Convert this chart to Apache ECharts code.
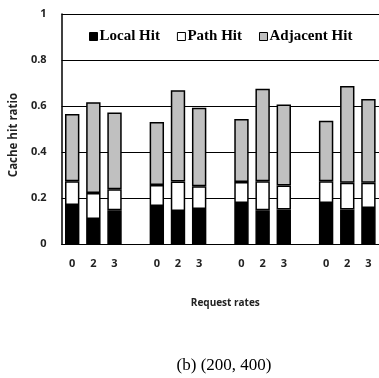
<!DOCTYPE html>
<html><head><meta charset="utf-8">
<script src="https://cdn.jsdelivr.net/npm/echarts@6/dist/echarts.min.js"></script>
<style>html,body{margin:0;padding:0;background:#fff;}#c{width:379px;height:378px;}</style>
</head><body><div id="c"></div>
<script>
const categories = ['0','2','3','','0','2','3','','0','2','3','','0','2','3'];
const localHit    = [0.170, 0.109, 0.147, null, 0.165, 0.144, 0.152, null, 0.178, 0.147, 0.150, null, 0.178, 0.150, 0.157];
const pathHit     = [0.103, 0.113, 0.091, null, 0.091, 0.128, 0.099, null, 0.092, 0.126, 0.104, null, 0.095, 0.116, 0.109];
const adjacentHit = [0.292, 0.394, 0.334, null, 0.274, 0.397, 0.341, null, 0.274, 0.402, 0.353, null, 0.263, 0.421, 0.364];
const yTicks = [0, 0.2, 0.4, 0.6, 0.8, 1];

const chart = echarts.init(document.getElementById('c'));
const barCommon = {type:'bar', stack:'s', barCategoryGap:'32%'};
chart.setOption({
  animation:false,
  title:{text:'(b) (200, 400)', left:219, top:352, textAlign:'center',
    textStyle:{fontFamily:'Liberation Serif', fontWeight:'normal', fontSize:17, color:'#000'}},
  legend:{top:24, left:84, itemWidth:8, itemHeight:8, itemGap:17, icon:'rect',
    itemStyle:{borderColor:'#000', borderWidth:1},
    textStyle:{fontFamily:'Liberation Serif', fontWeight:'bold', fontSize:15, color:'#000', padding:[0,0,0,-3]},
    data:['Local Hit','Path Hit','Adjacent Hit']},
  grid:{left:59, right:-4, top:14, bottom:134, containLabel:false},
  xAxis:{type:'category', data:categories,
    axisLine:{show:true, lineStyle:{color:'#000', width:1}}, axisTick:{show:false},
    axisLabel:{fontFamily:'Open Sans', fontWeight:'bold', fontSize:11, color:'#222', margin:14},
    name:'Request rates', nameLocation:'middle', nameGap:54,
    nameTextStyle:{fontFamily:'Open Sans', fontWeight:'bold', fontSize:10, color:'#222', padding:[0,0,0,10]}},
  yAxis:{type:'value', min:0, max:1, interval:0.2,
    axisLine:{show:true, lineStyle:{color:'#000', width:1.5}}, axisTick:{show:false},
    splitLine:{lineStyle:{color:'#000', width:1}},
    axisLabel:{fontFamily:'Open Sans', fontWeight:'bold', fontSize:11, color:'#222', margin:15,
      formatter:v=>yTicks.includes(Math.round(v*10)/10)?String(Math.round(v*10)/10):''},
    name:'Cache hit ratio', nameLocation:'middle', nameGap:41,
    nameTextStyle:{fontFamily:'Open Sans', fontWeight:'bold', fontSize:11.5, color:'#222', padding:[0,0,0,-12]}},
  series:[
    Object.assign({}, barCommon, {name:'Local Hit', data:localHit, itemStyle:{color:'#000', borderColor:'#000', borderWidth:1.5}}),
    Object.assign({}, barCommon, {name:'Path Hit', data:pathHit, itemStyle:{color:'#fff', borderColor:'#000', borderWidth:1.5}}),
    Object.assign({}, barCommon, {name:'Adjacent Hit', data:adjacentHit, itemStyle:{color:'#c0c0c0', borderColor:'#000', borderWidth:1.5}})
  ]
});
</script></body></html>
